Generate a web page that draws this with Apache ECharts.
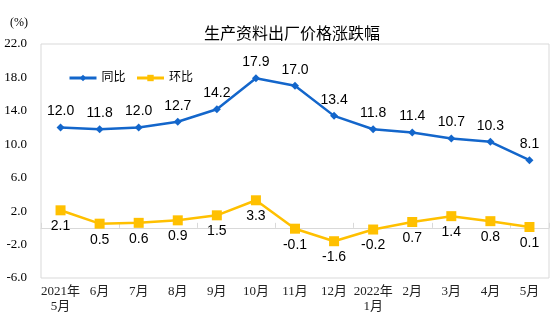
<!DOCTYPE html>
<html><head><meta charset="utf-8">
<script src="https://cdn.jsdelivr.net/npm/echarts@6/dist/echarts.min.js"></script>
<style>html,body{margin:0;padding:0;background:#fff}#c{width:554px;height:330px}</style>
</head><body><div id="c"></div>
<script>
const categories = ['2021年\n5月','6月','7月','8月','9月','10月','11月','12月','2022年\n1月','2月','3月','4月','5月'];
const yoy = [12.0, 11.8, 12.0, 12.7, 14.2, 17.9, 17.0, 13.4, 11.8, 11.4, 10.7, 10.3, 8.1];
const mom = [2.1, 0.5, 0.6, 0.9, 1.5, 3.3, -0.1, -1.6, -0.2, 0.7, 1.4, 0.8, 0.1];
const seriesNames = ['同比', '环比'];
const chart = echarts.init(document.getElementById('c'));
const serif = '"Liberation Serif", "Noto Sans CJK SC", serif';
const sans = '"Liberation Sans", Arial, "Noto Sans CJK SC", sans-serif';
chart.setOption({
  animation: false,
  title: {text: '生产资料出厂价格涨跌幅', left: 287, top: 22, textAlign: 'center',
    textStyle: {fontSize: 16, fontWeight: 'normal', color: '#000', fontFamily: sans}},
  graphic: [{type: 'text', left: 10, top: 17, style: {text: '(%)', font: '12px "Liberation Serif", serif', fill: '#000'}}],
  legend: {left: 63, top: 67, itemWidth: 27, itemHeight: 8, itemGap: 10,
    lineStyle: {width: 3},
    textStyle: {fontSize: 12, color: '#000', fontFamily: sans},
    data: seriesNames},
  grid: {left: 41, right: 5, top: 44, bottom: 52, show: true, borderColor: '#D9D9D9', borderWidth: 1},
  xAxis: [
    {type: 'category', data: categories, boundaryGap: true,
     axisLine: {onZero: true, lineStyle: {color: '#D9D9D9', width: 1}},
     axisTick: {show: true, inside: true, length: 5, lineStyle: {color: '#D9D9D9'}},
     axisLabel: {show: false}},
    {type: 'category', data: categories, boundaryGap: true, position: 'bottom',
     axisLine: {show: false, onZero: false}, axisTick: {show: false},
     axisLabel: {show: true, interval: 0, margin: 6, fontSize: 13, lineHeight: 15, color: '#222', fontFamily: serif}}
  ],
  yAxis: {type: 'value', min: -6, max: 22, interval: 4,
    axisLine: {show: false}, axisTick: {show: false}, splitLine: {show: false},
    axisLabel: {formatter: v => v.toFixed(1), fontSize: 13, color: '#000', margin: 14, fontFamily: serif}},
  series: [
    {name: seriesNames[0], type: 'line', data: yoy, xAxisIndex: 0, symbol: 'diamond', symbolSize: 8,
     lineStyle: {color: '#1366CB', width: 2.5}, itemStyle: {color: '#1366CB'},
     label: {show: true, position: 'top', distance: 5, fontSize: 14, color: '#000', formatter: p => p.value.toFixed(1), fontFamily: sans}},
    {name: seriesNames[1], type: 'line', data: mom, xAxisIndex: 0, symbol: 'rect', symbolSize: 10,
     lineStyle: {color: '#FFC000', width: 2.5}, itemStyle: {color: '#FFC000'},
     label: {show: true, position: 'bottom', distance: 4, fontSize: 14, color: '#000', formatter: p => p.value.toFixed(1), fontFamily: sans}}
  ]
});
</script></body></html>
